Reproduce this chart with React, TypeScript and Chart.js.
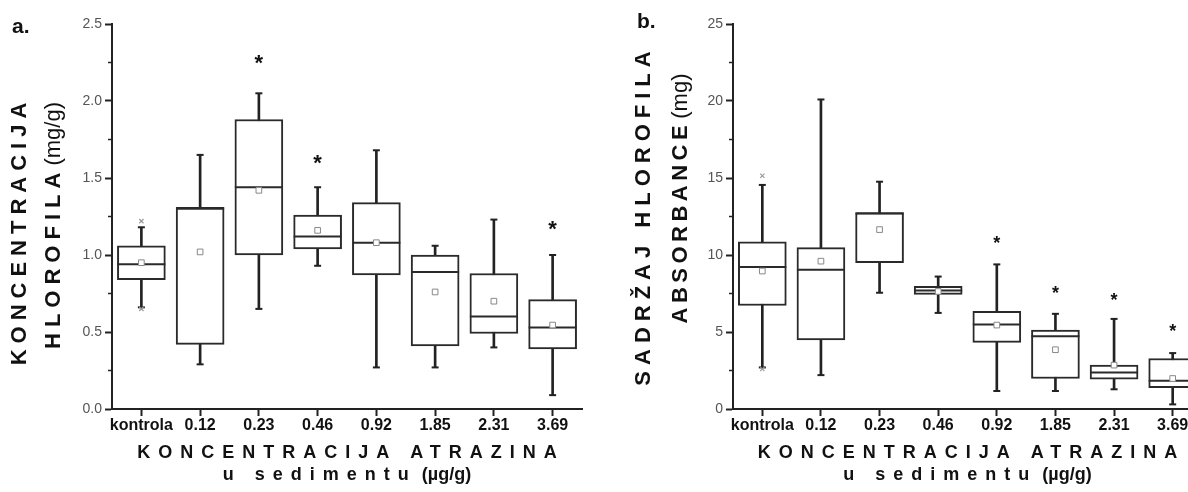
import { useEffect, useRef } from 'react';
import { Chart, registerables } from 'chart.js';

Chart.register(...registerables);

const FONT = "'Liberation Sans', Arial, Helvetica, sans-serif";

const categories = ['kontrola', '0.12', '0.23', '0.46', '0.92', '1.85', '2.31', '3.69'];

// Panel a – koncentracija hlorofila (mg/g)
const aMin = [0.66, 0.29, 0.65, 0.93, 0.27, 0.27, 0.40, 0.09];
const aQ1 = [0.84, 0.42, 1.00, 1.04, 0.87, 0.41, 0.49, 0.39];
const aMedian = [0.94, 1.30, 1.44, 1.12, 1.08, 0.89, 0.60, 0.53];
const aQ3 = [1.06, 1.31, 1.88, 1.26, 1.34, 1.00, 0.88, 0.71];
const aMax = [1.18, 1.65, 2.05, 1.44, 1.68, 1.06, 1.23, 1.00];
const aMean = [0.95, 1.02, 1.42, 1.16, 1.08, 0.76, 0.70, 0.545];
const aOutHigh = [1.22, null, null, null, null, null, null, null];
const aOutLow = [0.65, null, null, null, null, null, null, null];
const aStars = [null, null, 2.27, 1.62, null, null, null, 1.19];
const aYTicks = { max: 2.5, step: 0.5, decimals: 1 };

// Panel b – sadržaj hlorofila absorbance (mg)
const bMin = [2.7, 2.2, 7.55, 6.24, 1.17, 1.17, 1.28, 0.3];
const bQ1 = [6.72, 4.48, 9.5, 7.44, 4.33, 1.98, 1.94, 1.39];
const bMedian = [9.22, 9.05, 12.7, 7.7, 5.48, 4.72, 2.37, 1.83];
const bQ3 = [10.85, 10.48, 12.76, 7.96, 6.35, 5.13, 2.85, 3.28];
const bMax = [14.55, 20.1, 14.76, 8.6, 9.39, 6.18, 5.85, 3.63];
const bMean = [8.96, 9.6, 11.65, 7.63, 5.45, 3.85, 2.85, 1.98];
const bOutHigh = [15.15, null, null, null, null, null, null, null];
const bOutLow = [2.6, null, null, null, null, null, null, null];
const bStars = [null, null, null, null, 11.0, 7.74, 7.3, 5.3];
const bYTicks = { max: 25, step: 5, decimals: 0 };

type Seg = { text: string; weight: string; spacing: number; shift?: number };

function drawSegments(ctx: CanvasRenderingContext2D, segs: Seg[], size: number, cx: number, cy: number, rotate: boolean) {
  ctx.save();
  ctx.translate(cx, cy);
  if (rotate) ctx.rotate(-Math.PI / 2);
  const widths = segs.map((s) => {
    ctx.font = `${s.weight} ${size}px ${FONT}`;
    (ctx as any).letterSpacing = s.spacing + 'px';
    return ctx.measureText(s.text).width + (s.shift || 0);
  });
  const total = widths.reduce((a, b) => a + b, 0) - segs[segs.length - 1].spacing;
  let x = -total / 2;
  const capH = size * 0.716;
  ctx.fillStyle = '#111';
  ctx.textAlign = 'left';
  ctx.textBaseline = 'alphabetic';
  segs.forEach((s, i) => {
    ctx.font = `${s.weight} ${size}px ${FONT}`;
    (ctx as any).letterSpacing = s.spacing + 'px';
    ctx.fillText(s.text, x + (s.shift || 0), capH / 2);
    x += widths[i];
  });
  ctx.restore();
}

type PanelCfg = {
  letter: string;
  letterPos: [number, number];
  min: number[]; q1: number[]; median: number[]; q3: number[]; max: number[]; mean: number[];
  outHigh: (number | null)[]; outLow: (number | null)[]; stars: (number | null)[];
  yTicks: { max: number; step: number; decimals: number };
  starSize: number;
  yTitle1: Seg[]; yTitle2: Seg[];
  yTitle1Pos: [number, number]; yTitle2Pos: [number, number];
  padLeft: number;
  width: number;
  left: number;
};

const panelA: PanelCfg = {
  letter: 'a.', letterPos: [12, 33],
  min: aMin, q1: aQ1, median: aMedian, q3: aQ3, max: aMax, mean: aMean,
  outHigh: aOutHigh, outLow: aOutLow, stars: aStars, yTicks: aYTicks, starSize: 22,
  yTitle1: [{ text: 'KONCENTRACIJA', weight: 'bold', spacing: 6 }],
  yTitle2: [{ text: 'HLOROFILA', weight: 'bold', spacing: 6 }, { text: ' (mg/g)', weight: 'normal', spacing: 0, shift: -5 }],
  yTitle1Pos: [18.5, 234], yTitle2Pos: [52, 225.5],
  padLeft: 60, width: 590, left: 0,
};

const panelB: PanelCfg = {
  letter: 'b.', letterPos: [47, 28],
  min: bMin, q1: bQ1, median: bMedian, q3: bQ3, max: bMax, mean: bMean,
  outHigh: bOutHigh, outLow: bOutLow, stars: bStars, yTicks: bYTicks, starSize: 18,
  yTitle1: [{ text: 'SADRŽAJ HLOROFILA', weight: 'bold', spacing: 6 }],
  yTitle2: [{ text: 'ABSORBANCE', weight: 'bold', spacing: 4.5 }, { text: ' (mg)', weight: 'normal', spacing: 0, shift: -4 }],
  yTitle1Pos: [52, 218.5], yTitle2Pos: [89, 198.5],
  padLeft: 91, width: 620, left: 590,
};

function Panel({ cfg }: { cfg: PanelCfg }) {
  const ref = useRef<HTMLCanvasElement | null>(null);
  useEffect(() => {
    if (!ref.current) return;
    const decor = {
      id: 'decor',
      afterDraw(chart: any) {
        const ctx: CanvasRenderingContext2D = chart.ctx;
        const area = chart.chartArea;
        const y = chart.scales.y;
        const x = chart.scales.x;
        // minor ticks
        ctx.save();
        ctx.strokeStyle = '#222';
        ctx.lineWidth = 1.5;
        for (let v = cfg.yTicks.step / 2; v < cfg.yTicks.max; v += cfg.yTicks.step) {
          const py = y.getPixelForValue(v);
          ctx.beginPath();
          ctx.moveTo(area.left - 4, py);
          ctx.lineTo(area.left, py);
          ctx.stroke();
        }
        ctx.restore();
        // significance stars
        ctx.save();
        ctx.fillStyle = '#111';
        ctx.font = `bold ${cfg.starSize}px ${FONT}`;
        ctx.textAlign = 'center';
        ctx.textBaseline = 'alphabetic';
        const m = ctx.measureText('*');
        const off = (m.actualBoundingBoxAscent - m.actualBoundingBoxDescent) / 2;
        cfg.stars.forEach((s, i) => {
          if (s == null) return;
          ctx.fillText('*', x.getPixelForValue(i), y.getPixelForValue(s) + off);
        });
        ctx.restore();
        // axis titles
        const cx = (area.left + area.right) / 2;
        drawSegments(ctx, [{ text: 'KONCENTRACIJA ATRAZINA', weight: 'bold', spacing: 8 }], 18, cx, 451.7, false);
        drawSegments(ctx, [{ text: 'u sedimentu', weight: 'bold', spacing: 8 }, { text: ' (µg/g)', weight: 'bold', spacing: 0 }], 18, cx, 473.5, false);
        drawSegments(ctx, cfg.yTitle1, 22, cfg.yTitle1Pos[0], cfg.yTitle1Pos[1], true);
        drawSegments(ctx, cfg.yTitle2, 22, cfg.yTitle2Pos[0], cfg.yTitle2Pos[1], true);
        // panel letter
        ctx.save();
        ctx.fillStyle = '#111';
        ctx.font = `bold 21px ${FONT}`;
        ctx.textAlign = 'left';
        ctx.textBaseline = 'alphabetic';
        ctx.fillText(cfg.letter, cfg.letterPos[0], cfg.letterPos[1]);
        ctx.restore();
      },
    };

    const axisGrid = { display: true, drawOnChartArea: false, drawTicks: true, tickLength: 7, tickWidth: 2, tickColor: '#222' };
    const chart = new Chart(ref.current, {
      type: 'bar',
      data: {
        labels: categories,
        datasets: [
          {
            type: 'bar', label: 'whisker', data: cfg.min.map((v, i) => [v, cfg.max[i]]) as any,
            backgroundColor: '#222', borderWidth: 0, barThickness: 2, grouped: false, order: 10,
          } as any,
          {
            type: 'bar', label: 'box', data: cfg.q1.map((v, i) => [v, cfg.q3[i]]) as any,
            backgroundColor: '#ffffff', borderColor: '#2a2a2a', borderWidth: 2, borderSkipped: false,
            barThickness: 48, grouped: false, order: 9,
          } as any,
          {
            type: 'line', label: 'median', data: cfg.median, showLine: false, pointStyle: 'line',
            pointRadius: 24, pointBorderColor: '#2a2a2a', pointBorderWidth: 2, borderColor: '#2a2a2a', order: 5,
          } as any,
          {
            type: 'line', label: 'max', data: cfg.max, showLine: false, pointStyle: 'line',
            pointRadius: 3.5, pointBorderColor: '#222', pointBorderWidth: 2, borderColor: '#222', order: 6,
          } as any,
          {
            type: 'line', label: 'min', data: cfg.min, showLine: false, pointStyle: 'line',
            pointRadius: 3.5, pointBorderColor: '#222', pointBorderWidth: 2, borderColor: '#222', order: 6,
          } as any,
          {
            type: 'line', label: 'mean', data: cfg.mean, showLine: false, pointStyle: 'rect',
            pointRadius: 4, pointBackgroundColor: '#ffffff', pointBorderColor: '#888', pointBorderWidth: 1, order: 4,
          } as any,
          {
            type: 'line', label: 'outlier high', data: cfg.outHigh, showLine: false, pointStyle: 'crossRot',
            pointRadius: 3, pointBorderColor: '#999', pointBorderWidth: 1.2, order: 3,
          } as any,
          {
            type: 'line', label: 'outlier low', data: cfg.outLow, showLine: false, pointStyle: 'crossRot',
            pointRadius: 3, pointBorderColor: '#999', pointBorderWidth: 1.2, order: 3,
          } as any,
        ],
      },
      options: {
        responsive: false,
        animation: false,
        layout: { autoPadding: false, padding: { left: cfg.padLeft, right: 8, top: 24, bottom: 0 } },
        plugins: { legend: { display: false }, tooltip: { enabled: false } },
        scales: {
          x: {
            type: 'category',
            offset: true,
            grid: { ...axisGrid, offset: false },
            border: { display: true, color: '#222', width: 2 },
            ticks: { font: { family: FONT, size: 16, weight: 'bold' }, color: '#111', padding: 0, maxRotation: 0, autoSkip: false },
            afterFit: (s: any) => { s.height = 83; s.paddingLeft = 0; s.paddingRight = 0; },
          },
          y: {
            type: 'linear',
            min: 0,
            max: cfg.yTicks.max,
            grid: axisGrid,
            border: { display: true, color: '#222', width: 2 },
            ticks: {
              stepSize: cfg.yTicks.step,
              font: { family: FONT, size: 14 },
              color: '#555',
              padding: 3,
              callback: (v: any) => Number(v).toFixed(cfg.yTicks.decimals),
            },
            afterFit: (s: any) => { s.width = 52; },
          },
        },
      } as any,
      plugins: [decor],
    });
    return () => chart.destroy();
  }, [cfg]);

  return (
    <canvas
      ref={ref}
      width={cfg.width}
      height={492}
      style={{ position: 'absolute', left: cfg.left, top: 0, width: cfg.width, height: 492, display: 'block' }}
    />
  );
}

export default function App() {
  return (
    <div style={{ position: 'fixed', left: 0, top: 0, width: 1188, height: 492, overflow: 'hidden', background: '#ffffff' }}>
      <Panel cfg={panelA} />
      <Panel cfg={panelB} />
    </div>
  );
}
